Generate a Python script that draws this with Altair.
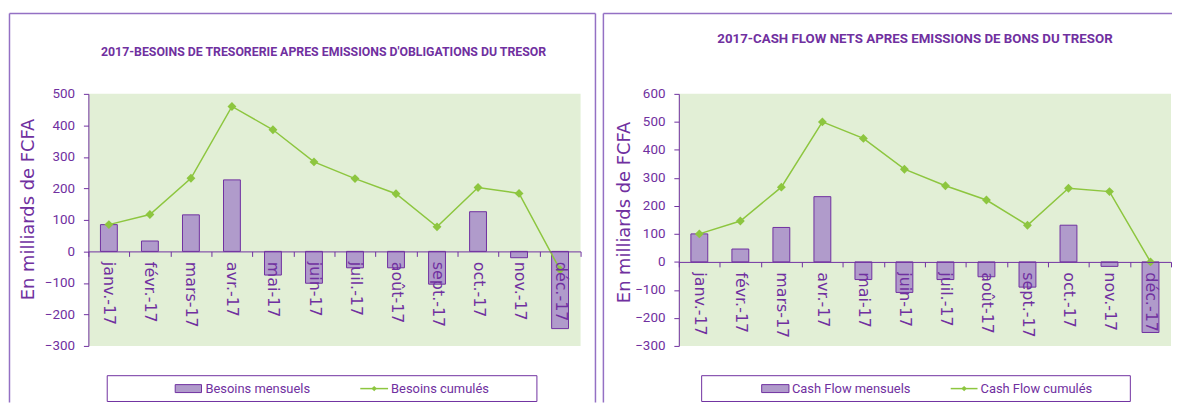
import altair as alt
import pandas as pd

# ---------------- data ----------------
months = ["janv.-17", "févr.-17", "mars-17", "avr.-17", "mai-17", "juin-17",
          "juil.-17", "août-17", "sept.-17", "oct.-17", "nov.-17", "déc.-17"]

besoins_mensuels = [85, 33, 116, 227, -75, -101, -52, -52, -104, 126, -20, -245]
besoins_cumules = [85, 117, 232, 460, 386, 284, 231, 183, 78, 203, 184, -58]

cf_mensuels = [100, 46, 123, 233, -63, -109, -63, -53, -90, 131, -16, -252]
cf_cumules = [100, 146, 267, 500, 441, 331, 272, 221, 131, 263, 251, 0]

title_left = "2017-BESOINS DE TRESORERIE APRES EMISSIONS D'OBLIGATIONS DU TRESOR"
title_right = "2017-CASH FLOW NETS APRES EMISSIONS DE BONS DU TRESOR"
y_title = "En milliards de FCFA"
legend_left = ["Besoins mensuels", "Besoins cumulés"]
legend_right = ["Cash Flow mensuels", "Cash Flow cumulés"]

# ---------------- style ----------------
PURPLE = "#7030A0"
BAR_FILL = "#B09BCB"
GREEN = "#8DC63F"
BG = "#E2EFD6"
BORDER = "#9470C4"
NARROW = "Roboto, Liberation Sans, sans-serif"
WIDE = "DejaVu Sans, Verdana, sans-serif"

W = 496
H = 254


def one():
    return pd.DataFrame({"k": [0]})


def panel(monthly, cumul, ymin, ymax, title, names, g):
    df = pd.DataFrame({"mois": months, "mensuel": monthly, "cumul": cumul})
    zero_off = H * (0 - ymin) / (ymax - ymin)

    x = alt.X(
        "mois:N", sort=months,
        scale=alt.Scale(paddingInner=0, paddingOuter=0),
        axis=alt.Axis(
            title=None, orient="bottom", offset=-zero_off,
            labelAngle=90, labelAlign="left", labelBaseline="middle",
            labelFont=WIDE, labelFontSize=16, labelColor=PURPLE,
            labelPadding=5, labelOverlap=False,
            tickBand="extent", tickColor=PURPLE, tickSize=5,
            domainColor=PURPLE, zindex=1,
        ),
    )
    yscale = alt.Scale(domain=[ymin, ymax], nice=False, zero=False)
    yaxis = alt.Axis(
        title=y_title, values=list(range(ymin, ymax + 1, 100)),
        labelFont=NARROW, labelFontSize=13.5, labelColor=PURPLE, labelPadding=9,
        titleFont=WIDE, titleFontSize=18, titleFontWeight="normal",
        titleColor=PURPLE, titleX=g["tx"], titleY=g["ty"], titleAngle=-90,
        titleBaseline="middle", titleAlign="center",
        grid=False, domainColor=PURPLE, tickColor=PURPLE, tickSize=5,
    )

    base = alt.Chart(df)
    bars = base.mark_bar(size=17, fill=BAR_FILL, stroke=PURPLE, strokeWidth=1).encode(
        x=x, y=alt.Y("mensuel:Q", scale=yscale, axis=yaxis)
    )
    line = base.mark_line(color=GREEN, strokeWidth=1.5).encode(
        x=x, y=alt.Y("cumul:Q", scale=yscale, axis=yaxis)
    )
    pts = base.mark_point(shape="diamond", filled=True, color=GREEN, size=80, opacity=1).encode(
        x=x, y=alt.Y("cumul:Q", scale=yscale, axis=yaxis)
    )

    layers = [bars, line, pts]

    # panel border (top, left, right)
    r = alt.Chart(one()).mark_rule(color=BORDER, strokeWidth=1.5)
    layers.append(r.encode(x=alt.value(g["bl"]), x2=alt.value(g["br"]), y=alt.value(g["bt"])))
    layers.append(r.encode(x=alt.value(g["bl"]), y=alt.value(g["bt"]), y2=alt.value(g["bb"])))
    if g.get("right_side", False):
        layers.append(r.encode(x=alt.value(g["br"]), y=alt.value(g["bt"]), y2=alt.value(g["bb"])))

    # title
    layers.append(
        alt.Chart(one()).mark_text(font=NARROW, fontSize=g["tfs"], fontWeight="bold", color=PURPLE,
                                   align="center", baseline="middle").encode(
            x=alt.value(g["tix"]), y=alt.value(g["tiy"]), text=alt.value(title))
    )

    # legend
    lx0, lx1, ly0, ly1 = g["leg"]
    lyc = (ly0 + ly1) / 2
    layers.append(
        alt.Chart(one()).mark_rect(fill="white", stroke=PURPLE, strokeWidth=1).encode(
            x=alt.value(lx0), x2=alt.value(lx1), y=alt.value(ly0), y2=alt.value(ly1))
    )
    sx0, sx1, t1x, mx0, mx1, t2x = g["legitems"]
    layers.append(
        alt.Chart(one()).mark_rect(fill=BAR_FILL, stroke=PURPLE, strokeWidth=1).encode(
            x=alt.value(sx0), x2=alt.value(sx1), y=alt.value(lyc - 4), y2=alt.value(lyc + 4))
    )
    layers.append(
        alt.Chart(one()).mark_rule(color=GREEN, strokeWidth=1.5).encode(
            x=alt.value(mx0), x2=alt.value(mx1), y=alt.value(lyc))
    )
    layers.append(
        alt.Chart(one()).mark_point(shape="diamond", filled=True, color=GREEN, size=30, opacity=1).encode(
            x=alt.value((mx0 + mx1) / 2), y=alt.value(lyc))
    )
    for tx, name in [(t1x, names[0]), (t2x, names[1])]:
        layers.append(
            alt.Chart(one()).mark_text(font=NARROW, fontSize=13, color=PURPLE,
                                       align="left", baseline="middle").encode(
                x=alt.value(tx), y=alt.value(lyc), text=alt.value(name))
        )

    return alt.layer(*layers).properties(width=W, height=H)


left = panel(
    besoins_mensuels, besoins_cumules, -300, 500, title_left, legend_left,
    dict(tx=-60, ty=116, bl=-79.5, br=511, bt=-81, bb=311, right_side=True,
         tix=237, tiy=-42, tfs=12.4, leg=(19, 452, 284, 310),
         legitems=(87.5, 114, 118, 274, 302, 305)),
)
right = panel(
    cf_mensuels, cf_cumules, -300, 600, title_right, legend_right,
    dict(tx=-55, ty=119, bl=-76, br=497, bt=-81, bb=311, right_side=False,
         tix=238, tiy=-55, tfs=13.4, leg=(23, 455, 284, 310),
         legitems=(83.5, 111, 114, 274, 301, 304)),
)

chart = (
    alt.hconcat(left, right, spacing=6)
    .configure_view(fill=BG, stroke=None)
    .properties(padding={"left": 0, "top": 3, "right": 0, "bottom": 0}, background="white")
)

chart.save("out.html", embed_options={"renderer": "svg", "actions": False})
